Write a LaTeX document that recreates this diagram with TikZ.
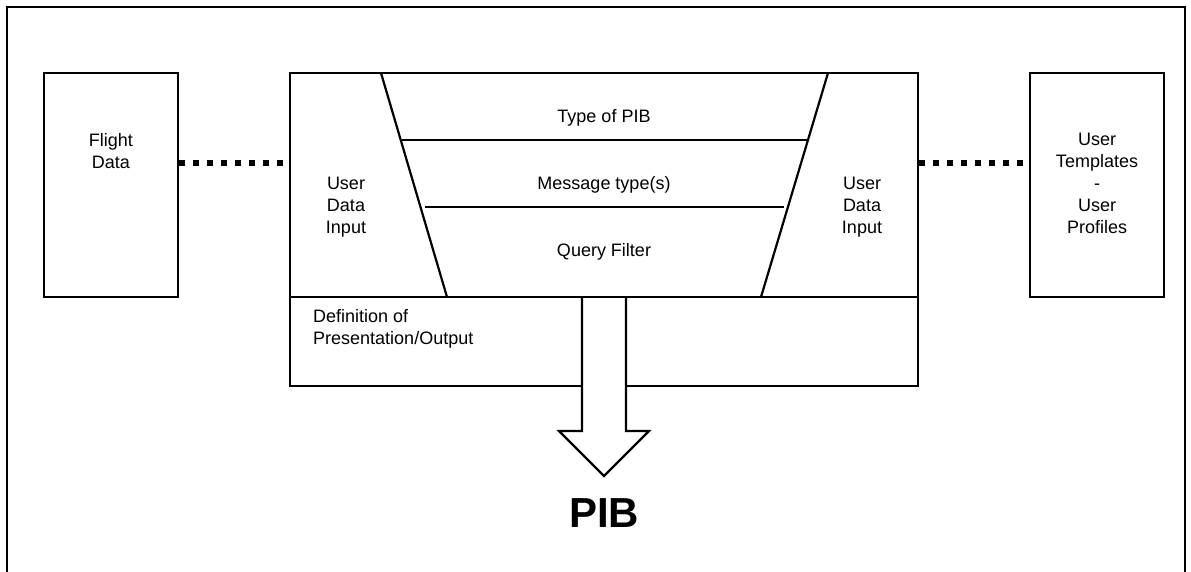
\documentclass[tikz,border=0pt]{standalone}
\usepackage{fontspec}
\setmainfont{Liberation Sans}
\begin{document}
\begin{tikzpicture}[x=1pt,y=-1pt,
  line/.style={line width=2.2pt},
  box/.style={draw,line width=2.6pt,inner sep=0pt},
  txt/.style={font=\fontsize{18}{22}\selectfont,align=center,inner sep=0pt},
  dots/.style={line width=6pt,dash pattern=on 6pt off 8pt}]
\useasboundingbox (0,0) rectangle (1191,572);
% outer frame (open at bottom)
\draw[line width=2.6pt] (7,572) -- (7,7) -- (1185,7) -- (1185,572);
% side boxes
\node[box,minimum width=134pt,minimum height=224pt] (fd) at (111,185) {};
\node[txt] (fdt) at (111,151) {Flight\\Data};
\node[box,minimum width=134pt,minimum height=224pt] (ut) at (1097,185) {};
\node[txt] (utt) at (1097,183) {User\\Templates\\-\\User\\Profiles};
% main box
\node[box,minimum width=628pt,minimum height=313pt] (main) at (604,229.5) {};
\coordinate (dl) at (290,297);
\coordinate (dr) at (918,297);
% funnel
\coordinate (lt) at (381,73);
\coordinate (lb) at (447,297);
\coordinate (rt) at (828,73);
\coordinate (rb) at (761,297);
\draw[line] (lt) -- (lb);
\draw[line] (rt) -- (rb);
\coordinate (a1) at (402,140);
\coordinate (b1) at (807,140);
\coordinate (a2) at (425,207);
\coordinate (b2) at (784,207);
\draw[line] (a1) -- (b1);
\draw[line] (a2) -- (b2);
\node[txt] (t1) at (604,118) {Type of PIB};
\node[txt] (t2) at (604,185) {Message type(s)};
\node[txt] (t3) at (604,252) {Query Filter};
\node[txt] (ul) at (346,207) {User\\Data\\Input};
\node[txt] (ur) at (862,207) {User\\Data\\Input};
\node[txt,align=left,anchor=north west] (def) at (313,309) {Definition of\\Presentation/Output};
% dotted connectors
\draw[dots] (fd.east |- 0,163) -- (main.west |- 0,163);
\draw[dots] (main.east |- 0,163) -- (ut.west |- 0,163);
% output arrow
\draw[line,fill=white,line join=miter] (582,297) -- (582,431) -- (559,431) -- (604,476) -- (649,431) -- (626,431) -- (626,297);
\draw[line] (dl) -- (dr);
\node[font=\fontsize{42}{48}\selectfont\bfseries,inner sep=0pt] (pib) at (604,513) {PIB};
\end{tikzpicture}
\end{document}
